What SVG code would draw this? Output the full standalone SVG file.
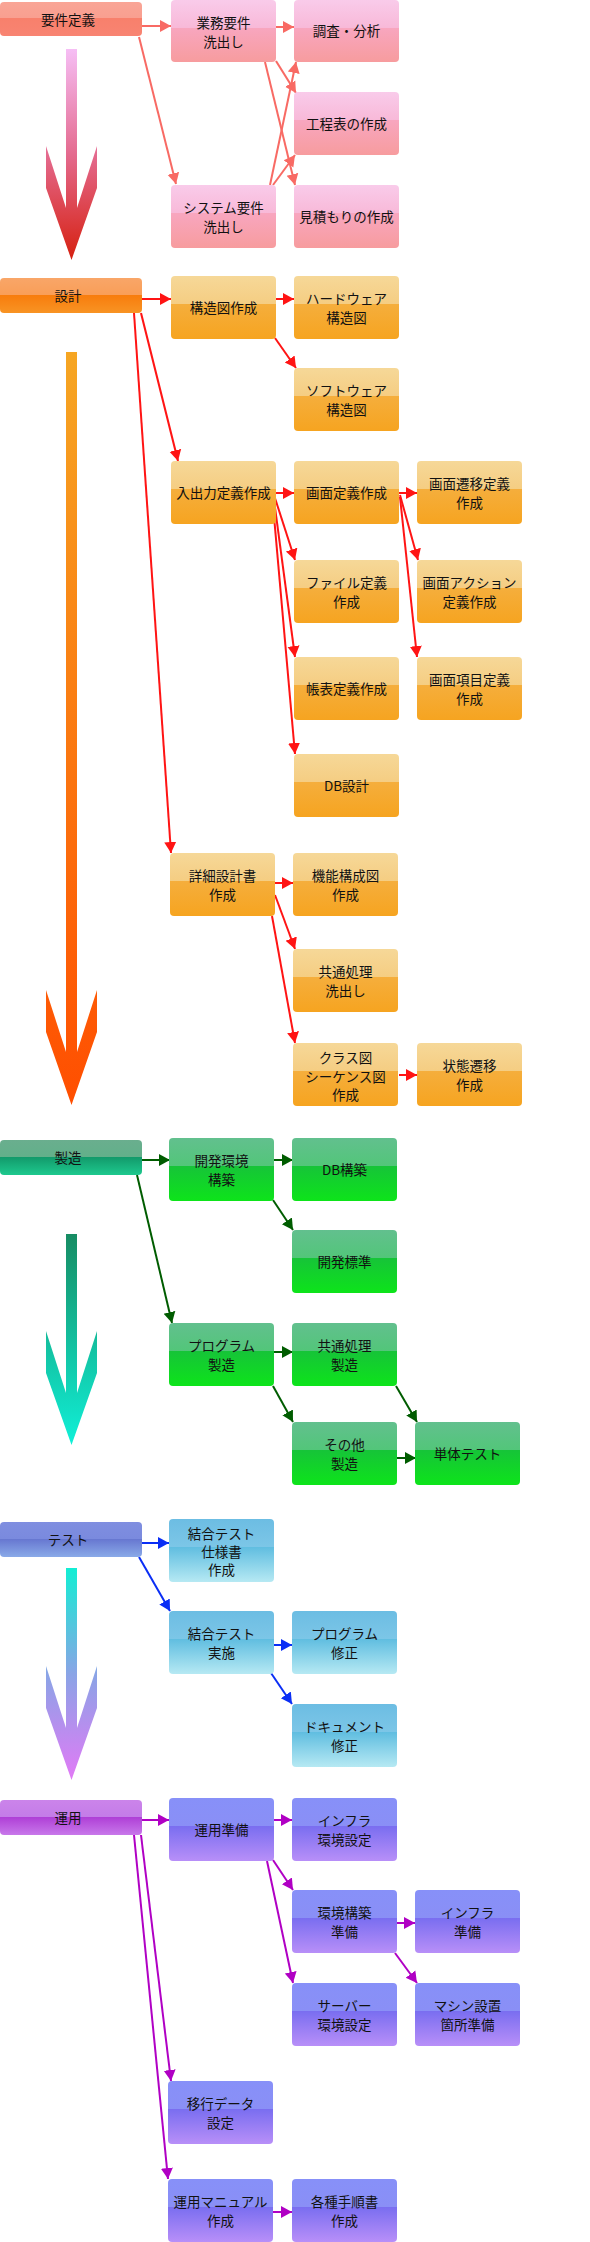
<svg xmlns="http://www.w3.org/2000/svg" width="590" height="2242" viewBox="0 0 590 2242">
<style>
.t{font-family:"Noto Sans CJK JP","Noto Sans CJK SC",sans-serif;font-size:13.5px;fill:#111;text-anchor:middle}
.c line{stroke-width:2;fill:none}
.cp line{stroke:#f86a64;marker-end:url(#mp)}
.cr line{stroke:#ff1414;marker-end:url(#mr)}
.cg line{stroke:#005c00;marker-end:url(#mg)}
.cb line{stroke:#0a2ef5;marker-end:url(#mb)}
.cv line{stroke:#b000c4;marker-end:url(#mv)}
.bp{fill:url(#gP)}.bo{fill:url(#gO)}.bg{fill:url(#gG)}.bb{fill:url(#gB)}.bv{fill:url(#gV)}
</style>
<defs>
<linearGradient id="gP" x1="0" y1="0" x2="0" y2="1"><stop offset="0" stop-color="#f9cbea"/><stop offset="0.45" stop-color="#f8b9d8"/><stop offset="0.45" stop-color="#f8a6bf"/><stop offset="1" stop-color="#f79c9e"/></linearGradient>
<linearGradient id="gO" x1="0" y1="0" x2="0" y2="1"><stop offset="0" stop-color="#f6d898"/><stop offset="0.45" stop-color="#f5cd82"/><stop offset="0.45" stop-color="#f5ae3c"/><stop offset="1" stop-color="#f6a420"/></linearGradient>
<linearGradient id="gG" x1="0" y1="0" x2="0" y2="1"><stop offset="0" stop-color="#62c08e"/><stop offset="0.45" stop-color="#52c679"/><stop offset="0.45" stop-color="#16c438"/><stop offset="1" stop-color="#0de41a"/></linearGradient>
<linearGradient id="gB" x1="0" y1="0" x2="0" y2="1"><stop offset="0" stop-color="#6cbde3"/><stop offset="0.44" stop-color="#7cc6e7"/><stop offset="0.44" stop-color="#5fbde0"/><stop offset="1" stop-color="#b6e9f3"/></linearGradient>
<linearGradient id="gV" x1="0" y1="0" x2="0" y2="1"><stop offset="0" stop-color="#8790f8"/><stop offset="0.45" stop-color="#8a8ff6"/><stop offset="0.45" stop-color="#7a6ef0"/><stop offset="1" stop-color="#b88ff8"/></linearGradient>
<linearGradient id="hP" x1="0" y1="0" x2="0" y2="1"><stop offset="0" stop-color="#f9a596"/><stop offset="0.48" stop-color="#f99f90"/><stop offset="0.48" stop-color="#f8806c"/><stop offset="1" stop-color="#f88472"/></linearGradient>
<linearGradient id="hO" x1="0" y1="0" x2="0" y2="1"><stop offset="0" stop-color="#f9a668"/><stop offset="0.48" stop-color="#f99e58"/><stop offset="0.48" stop-color="#f87c0c"/><stop offset="1" stop-color="#f89424"/></linearGradient>
<linearGradient id="hG" x1="0" y1="0" x2="0" y2="1"><stop offset="0" stop-color="#6aae8e"/><stop offset="0.48" stop-color="#62b08a"/><stop offset="0.48" stop-color="#12996a"/><stop offset="1" stop-color="#1ec98e"/></linearGradient>
<linearGradient id="hB" x1="0" y1="0" x2="0" y2="1"><stop offset="0" stop-color="#7f8ee0"/><stop offset="0.48" stop-color="#7a8ade"/><stop offset="0.48" stop-color="#6676d0"/><stop offset="1" stop-color="#8aaae8"/></linearGradient>
<linearGradient id="hV" x1="0" y1="0" x2="0" y2="1"><stop offset="0" stop-color="#cb84ea"/><stop offset="0.48" stop-color="#c47ce8"/><stop offset="0.48" stop-color="#ae3ed6"/><stop offset="1" stop-color="#c878ea"/></linearGradient>
<linearGradient id="a1" x1="0" y1="0" x2="0" y2="1"><stop offset="0" stop-color="#f6bef5"/><stop offset="0.5" stop-color="#e46a8e"/><stop offset="1" stop-color="#d62010"/></linearGradient>
<linearGradient id="a2" x1="0" y1="0" x2="0" y2="1"><stop offset="0" stop-color="#f6a623"/><stop offset="1" stop-color="#ff4e00"/></linearGradient>
<linearGradient id="a3" x1="0" y1="0" x2="0" y2="1"><stop offset="0" stop-color="#178c63"/><stop offset="1" stop-color="#10f0d8"/></linearGradient>
<linearGradient id="a4" x1="0" y1="0" x2="0" y2="1"><stop offset="0" stop-color="#12eed4"/><stop offset="0.5" stop-color="#8aa4e6"/><stop offset="1" stop-color="#e27af6"/></linearGradient>
<marker id="mp" markerUnits="userSpaceOnUse" markerWidth="12" markerHeight="14" viewBox="0 0 12 14" refX="11" refY="7" orient="auto"><path d="M0,1 L11,7 L0,13 z" fill="#f86a64"/></marker>
<marker id="mr" markerUnits="userSpaceOnUse" markerWidth="12" markerHeight="14" viewBox="0 0 12 14" refX="11" refY="7" orient="auto"><path d="M0,1 L11,7 L0,13 z" fill="#ff1414"/></marker>
<marker id="mg" markerUnits="userSpaceOnUse" markerWidth="12" markerHeight="14" viewBox="0 0 12 14" refX="11" refY="7" orient="auto"><path d="M0,1 L11,7 L0,13 z" fill="#005c00"/></marker>
<marker id="mb" markerUnits="userSpaceOnUse" markerWidth="12" markerHeight="14" viewBox="0 0 12 14" refX="11" refY="7" orient="auto"><path d="M0,1 L11,7 L0,13 z" fill="#0a2ef5"/></marker>
<marker id="mv" markerUnits="userSpaceOnUse" markerWidth="12" markerHeight="14" viewBox="0 0 12 14" refX="11" refY="7" orient="auto"><path d="M0,1 L11,7 L0,13 z" fill="#b000c4"/></marker>
</defs>

<g id="phase-arrows">
<polygon fill="url(#a1)" points="66,49 77,49 77,208 97,146 97,188 71.5,260 46,188 46,146 66,208"/>
<polygon fill="url(#a2)" points="66,352 77,352 77,1052 97,990 97,1032 71.5,1105 46,1032 46,990 66,1052"/>
<polygon fill="url(#a3)" points="66,1234 77,1234 77,1393 97,1331 97,1373 71.5,1445 46,1373 46,1331 66,1393"/>
<polygon fill="url(#a4)" points="66,1568 77,1568 77,1728 97,1666 97,1708 71.5,1780 46,1708 46,1666 66,1728"/>
</g>

<g id="connectors" class="c">
<g class="cp">
<line x1="142" y1="26" x2="171" y2="26"/>
<line x1="276" y1="27" x2="294" y2="27"/>
<line x1="139" y1="37" x2="176" y2="184"/>
<line x1="276" y1="61" x2="296" y2="93"/>
<line x1="265" y1="62" x2="295" y2="185"/>
<line x1="270" y1="185" x2="296" y2="62"/>
<line x1="273" y1="185" x2="295" y2="155"/>
</g>
<g class="cr">
<line x1="142" y1="299" x2="171" y2="299"/>
<line x1="276" y1="299" x2="294" y2="299"/>
<line x1="275" y1="338" x2="296" y2="368"/>
<line x1="141" y1="313" x2="178" y2="461"/>
<line x1="134" y1="313" x2="171" y2="853"/>
<line x1="276" y1="493" x2="294" y2="493"/>
<line x1="399" y1="493" x2="417" y2="493"/>
<line x1="274" y1="495" x2="295" y2="560"/>
<line x1="274" y1="500" x2="295" y2="657"/>
<line x1="273" y1="505" x2="295" y2="754"/>
<line x1="400" y1="495" x2="418" y2="560"/>
<line x1="400" y1="497" x2="417" y2="657"/>
<line x1="275" y1="883" x2="293" y2="883"/>
<line x1="275" y1="895" x2="295" y2="949"/>
<line x1="272" y1="916" x2="295" y2="1043"/>
<line x1="399" y1="1075" x2="417" y2="1075"/>
</g>
<g class="cg">
<line x1="142" y1="1160" x2="170" y2="1160"/>
<line x1="274" y1="1160" x2="293" y2="1160"/>
<line x1="273" y1="1200" x2="293" y2="1230"/>
<line x1="137" y1="1175" x2="172" y2="1323"/>
<line x1="274" y1="1352" x2="293" y2="1352"/>
<line x1="273" y1="1386" x2="293" y2="1422"/>
<line x1="396" y1="1386" x2="417" y2="1422"/>
<line x1="397" y1="1458" x2="416" y2="1458"/>
</g>
<g class="cb">
<line x1="142" y1="1543" x2="169" y2="1543"/>
<line x1="139" y1="1557" x2="170" y2="1611"/>
<line x1="273" y1="1645" x2="292" y2="1645"/>
<line x1="271" y1="1673" x2="292" y2="1704"/>
</g>
<g class="cv">
<line x1="142" y1="1820" x2="169" y2="1820"/>
<line x1="273" y1="1820" x2="292" y2="1820"/>
<line x1="273" y1="1860" x2="293" y2="1890"/>
<line x1="267" y1="1861" x2="293" y2="1983"/>
<line x1="397" y1="1923" x2="415" y2="1923"/>
<line x1="395" y1="1953" x2="417" y2="1983"/>
<line x1="141" y1="1835" x2="171" y2="2081"/>
<line x1="134" y1="1835" x2="168" y2="2179"/>
<line x1="273" y1="2212" x2="292" y2="2212"/>
</g>
</g>

<g id="h-yoken"><rect x="0" y="2" width="142" height="34" rx="4" fill="url(#hP)"/><text class="t" x="68" y="24.5">要件定義</text></g>
<g id="n-gyomu"><rect class="bp" x="171" y="0" width="105" height="62" rx="4"/><text class="t" x="223.5"><tspan x="223.5" y="27.5">業務要件</tspan><tspan x="223.5" y="46.5">洗出し</tspan></text></g>
<g id="n-chosa"><rect class="bp" x="294" y="0" width="105" height="62" rx="4"/><text class="t" x="346.5" y="36">調査・分析</text></g>
<g id="n-kotei"><rect class="bp" x="294" y="92" width="105" height="63" rx="4"/><text class="t" x="346.5" y="128.5">工程表の作成</text></g>
<g id="n-system"><rect class="bp" x="171" y="185" width="105" height="63" rx="4"/><text class="t"><tspan x="223.5" y="212.5">システム要件</tspan><tspan x="223.5" y="231.5">洗出し</tspan></text></g>
<g id="n-mitsumori"><rect class="bp" x="294" y="185" width="105" height="63" rx="4"/><text class="t" x="346.5" y="221.5">見積もりの作成</text></g>

<g id="h-sekkei"><rect x="0" y="278" width="142" height="35" rx="4" fill="url(#hO)"/><text class="t" x="68" y="300.5">設計</text></g>
<g id="n-kozozu"><rect class="bo" x="171" y="276" width="105" height="63" rx="4"/><text class="t" x="223.5" y="312.5">構造図作成</text></g>
<g id="n-hard"><rect class="bo" x="294" y="276" width="105" height="63" rx="4"/><text class="t"><tspan x="346.5" y="303.5">ハードウェア</tspan><tspan x="346.5" y="322.5">構造図</tspan></text></g>
<g id="n-soft"><rect class="bo" x="294" y="368" width="105" height="63" rx="4"/><text class="t"><tspan x="346.5" y="395.5">ソフトウェア</tspan><tspan x="346.5" y="414.5">構造図</tspan></text></g>
<g id="n-io"><rect class="bo" x="171" y="461" width="105" height="63" rx="4"/><text class="t" x="223.5" y="497.5">入出力定義作成</text></g>
<g id="n-gamen"><rect class="bo" x="294" y="461" width="105" height="63" rx="4"/><text class="t" x="346.5" y="497.5">画面定義作成</text></g>
<g id="n-sen-i"><rect class="bo" x="417" y="461" width="105" height="63" rx="4"/><text class="t"><tspan x="469.5" y="488.5">画面遷移定義</tspan><tspan x="469.5" y="507.5">作成</tspan></text></g>
<g id="n-file"><rect class="bo" x="294" y="560" width="105" height="63" rx="4"/><text class="t"><tspan x="346.5" y="587.5">ファイル定義</tspan><tspan x="346.5" y="606.5">作成</tspan></text></g>
<g id="n-action"><rect class="bo" x="417" y="560" width="105" height="63" rx="4"/><text class="t"><tspan x="469.5" y="587.5">画面アクション</tspan><tspan x="469.5" y="606.5">定義作成</tspan></text></g>
<g id="n-chohyo"><rect class="bo" x="294" y="657" width="105" height="63" rx="4"/><text class="t" x="346.5" y="693.5">帳表定義作成</text></g>
<g id="n-komoku"><rect class="bo" x="417" y="657" width="105" height="63" rx="4"/><text class="t"><tspan x="469.5" y="684.5">画面項目定義</tspan><tspan x="469.5" y="703.5">作成</tspan></text></g>
<g id="n-db"><rect class="bo" x="294" y="754" width="105" height="63" rx="4"/><text class="t" x="346.5" y="790.5">DB設計</text></g>
<g id="n-shosai"><rect class="bo" x="170" y="853" width="105" height="63" rx="4"/><text class="t"><tspan x="222.5" y="880.5">詳細設計書</tspan><tspan x="222.5" y="899.5">作成</tspan></text></g>
<g id="n-kino"><rect class="bo" x="293" y="853" width="105" height="63" rx="4"/><text class="t"><tspan x="345.5" y="880.5">機能構成図</tspan><tspan x="345.5" y="899.5">作成</tspan></text></g>
<g id="n-kyotsu"><rect class="bo" x="293" y="949" width="105" height="63" rx="4"/><text class="t"><tspan x="345.5" y="976.5">共通処理</tspan><tspan x="345.5" y="995.5">洗出し</tspan></text></g>
<g id="n-class"><rect class="bo" x="293" y="1043" width="105" height="63" rx="4"/><text class="t"><tspan x="345.5" y="1063">クラス図</tspan><tspan x="345.5" y="1082">シーケンス図</tspan><tspan x="345.5" y="1100">作成</tspan></text></g>
<g id="n-jotai"><rect class="bo" x="417" y="1043" width="105" height="63" rx="4"/><text class="t"><tspan x="469.5" y="1070.5">状態遷移</tspan><tspan x="469.5" y="1089.5">作成</tspan></text></g>

<g id="h-seizo"><rect x="0" y="1140" width="142" height="35" rx="4" fill="url(#hG)"/><text class="t" x="68" y="1162.5">製造</text></g>
<g id="n-kankyo"><rect class="bg" x="169" y="1138" width="105" height="63" rx="4"/><text class="t"><tspan x="221.5" y="1165.5">開発環境</tspan><tspan x="221.5" y="1184.5">構築</tspan></text></g>
<g id="n-dbkochiku"><rect class="bg" x="292" y="1138" width="105" height="63" rx="4"/><text class="t" x="344.5" y="1174.5">DB構築</text></g>
<g id="n-hyojun"><rect class="bg" x="292" y="1230" width="105" height="63" rx="4"/><text class="t" x="344.5" y="1266.5">開発標準</text></g>
<g id="n-program"><rect class="bg" x="169" y="1323" width="105" height="63" rx="4"/><text class="t"><tspan x="221.5" y="1350.5">プログラム</tspan><tspan x="221.5" y="1369.5">製造</tspan></text></g>
<g id="n-kyotsu-seizo"><rect class="bg" x="292" y="1323" width="105" height="63" rx="4"/><text class="t"><tspan x="344.5" y="1350.5">共通処理</tspan><tspan x="344.5" y="1369.5">製造</tspan></text></g>
<g id="n-sonota"><rect class="bg" x="292" y="1422" width="105" height="63" rx="4"/><text class="t"><tspan x="344.5" y="1449.5">その他</tspan><tspan x="344.5" y="1468.5">製造</tspan></text></g>
<g id="n-tantai"><rect class="bg" x="415" y="1422" width="105" height="63" rx="4"/><text class="t" x="467.5" y="1458.5">単体テスト</text></g>

<g id="h-test"><rect x="0" y="1522" width="142" height="35" rx="4" fill="url(#hB)"/><text class="t" x="68" y="1544.5">テスト</text></g>
<g id="n-shiyo"><rect class="bb" x="169" y="1519" width="105" height="63" rx="4"/><text class="t"><tspan x="221.5" y="1539">結合テスト</tspan><tspan x="221.5" y="1557">仕様書</tspan><tspan x="221.5" y="1575">作成</tspan></text></g>
<g id="n-jisshi"><rect class="bb" x="169" y="1611" width="105" height="63" rx="4"/><text class="t"><tspan x="221.5" y="1638.5">結合テスト</tspan><tspan x="221.5" y="1657.5">実施</tspan></text></g>
<g id="n-pg-shusei"><rect class="bb" x="292" y="1611" width="105" height="63" rx="4"/><text class="t"><tspan x="344.5" y="1638.5">プログラム</tspan><tspan x="344.5" y="1657.5">修正</tspan></text></g>
<g id="n-doc-shusei"><rect class="bb" x="292" y="1704" width="105" height="63" rx="4"/><text class="t"><tspan x="344.5" y="1731.5">ドキュメント</tspan><tspan x="344.5" y="1750.5">修正</tspan></text></g>

<g id="h-unyo"><rect x="0" y="1800" width="142" height="35" rx="4" fill="url(#hV)"/><text class="t" x="68" y="1822.5">運用</text></g>
<g id="n-junbi"><rect class="bv" x="169" y="1798" width="105" height="63" rx="4"/><text class="t" x="221.5" y="1834.5">運用準備</text></g>
<g id="n-infra-env"><rect class="bv" x="292" y="1798" width="105" height="63" rx="4"/><text class="t"><tspan x="344.5" y="1825.5">インフラ</tspan><tspan x="344.5" y="1844.5">環境設定</tspan></text></g>
<g id="n-env-junbi"><rect class="bv" x="292" y="1890" width="105" height="63" rx="4"/><text class="t"><tspan x="344.5" y="1917.5">環境構築</tspan><tspan x="344.5" y="1936.5">準備</tspan></text></g>
<g id="n-infra-junbi"><rect class="bv" x="415" y="1890" width="105" height="63" rx="4"/><text class="t"><tspan x="467.5" y="1917.5">インフラ</tspan><tspan x="467.5" y="1936.5">準備</tspan></text></g>
<g id="n-server"><rect class="bv" x="292" y="1983" width="105" height="63" rx="4"/><text class="t"><tspan x="344.5" y="2010.5">サーバー</tspan><tspan x="344.5" y="2029.5">環境設定</tspan></text></g>
<g id="n-machine"><rect class="bv" x="415" y="1983" width="105" height="63" rx="4"/><text class="t"><tspan x="467.5" y="2010.5">マシン設置</tspan><tspan x="467.5" y="2029.5">箇所準備</tspan></text></g>
<g id="n-iko"><rect class="bv" x="168" y="2081" width="105" height="63" rx="4"/><text class="t"><tspan x="220.5" y="2108.5">移行データ</tspan><tspan x="220.5" y="2127.5">設定</tspan></text></g>
<g id="n-manual"><rect class="bv" x="168" y="2179" width="105" height="63" rx="4"/><text class="t"><tspan x="220.5" y="2206.5">運用マニュアル</tspan><tspan x="220.5" y="2225.5">作成</tspan></text></g>
<g id="n-tejun"><rect class="bv" x="292" y="2179" width="105" height="63" rx="4"/><text class="t"><tspan x="344.5" y="2206.5">各種手順書</tspan><tspan x="344.5" y="2225.5">作成</tspan></text></g>
</svg>
